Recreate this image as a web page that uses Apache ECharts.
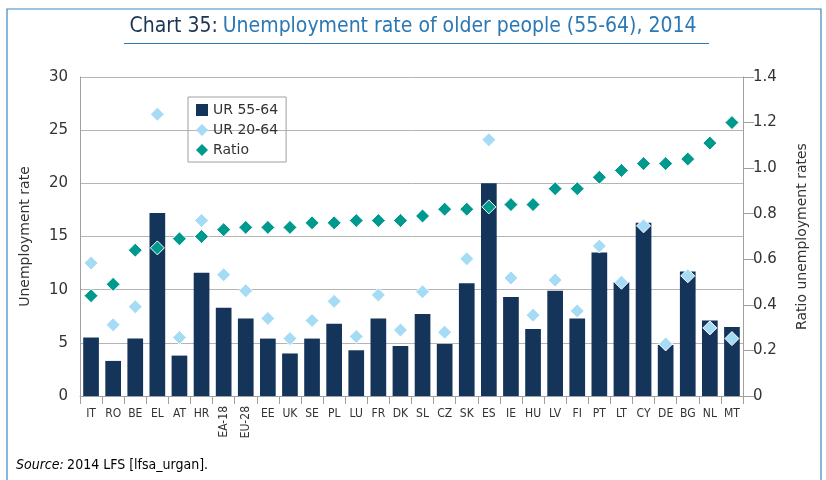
<!DOCTYPE html>
<html><head><meta charset="utf-8">
<script src="https://cdn.jsdelivr.net/npm/echarts@6/dist/echarts.min.js"></script>
<style>html,body{margin:0;padding:0;background:#fff}#c{width:826px;height:480px}</style>
</head><body><div id="c"></div>
<script>
var categories = ['IT','RO','BE','EL','AT','HR','EA-18','EU-28','EE','UK','SE','PL','LU','FR','DK','SL','CZ','SK','ES','IE','HU','LV','FI','PT','LT','CY','DE','BG','NL','MT'];
var ur5564 = [5.5,3.3,5.4,17.2,3.8,11.6,8.3,7.3,5.4,4.0,5.4,6.8,4.3,7.3,4.7,7.7,4.9,10.6,20.0,9.3,6.3,9.9,7.3,13.5,10.7,16.3,4.8,11.7,7.1,6.5];
var ur2064 = [12.5,6.7,8.4,26.5,5.5,16.5,11.4,9.9,7.3,5.4,7.1,8.9,5.6,9.5,6.2,9.8,6.0,12.9,24.1,11.1,7.6,10.9,8.0,14.1,10.7,16.0,4.9,11.3,6.4,5.4];
var ratio = [0.44,0.49,0.64,0.65,0.69,0.70,0.73,0.74,0.74,0.74,0.76,0.76,0.77,0.77,0.77,0.79,0.82,0.82,0.83,0.84,0.84,0.91,0.91,0.96,0.99,1.02,1.02,1.04,1.11,1.20];
var leftTicks = {min:0, max:30, interval:5};
var rightTicks = {min:0, max:1.4, interval:0.2};
var rotatedLabels = ['EA-18','EU-28'];

var chart = echarts.init(document.getElementById('c'));
var navy='#15345a', light='#a6dbf6', teal='#00998d', gray='#a0a0a0';
var baseFont = 'DejaVu Sans';
chart.setOption({
  animation:false,
  title:{
    text:'{a|Chart 35:} {b|Unemployment rate of older people (55-64), 2014}',
    left:'center', top:11,
    textStyle:{fontWeight:'normal',rich:{
      a:{fontFamily:'DejaVu Sans Condensed',fontSize:21,fontWeight:'normal',color:'#1c3556'},
      b:{fontFamily:'DejaVu Sans Condensed',fontSize:21,fontWeight:'normal',color:'#2a78b4'}
    }}
  },
  graphic:[
    {type:'rect',shape:{x:7,y:9,width:814,height:476},style:{fill:'none',stroke:'#3b86c2',lineWidth:1.2},z:-1},
    {type:'line',shape:{x1:124,y1:43.5,x2:709,y2:43.5},style:{stroke:'#2a78b4',lineWidth:1.2}},
    {type:'text',left:16,top:458,style:{
      text:'{s|Source:} {t|2014 LFS [lfsa_urgan].}',
      rich:{s:{fontFamily:'DejaVu Sans Condensed',fontStyle:'italic',fontSize:14,color:'#2a78b4'},
            t:{fontFamily:'DejaVu Sans Condensed',fontSize:14,color:'#1c3556'}}
    }}
  ],
  legend:{
    orient:'vertical', left:188, top:97,
    borderColor:'#a0a0a0', borderWidth:1, padding:[6,8,5,8],
    itemGap:6, itemWidth:12, itemHeight:12,
    itemStyle:{borderWidth:0},
    textStyle:{fontFamily:baseFont,fontSize:14,color:'#333'},
    data:[{name:'UR 55-64',icon:'rect'},{name:'UR 20-64',icon:'diamond'},{name:'Ratio',icon:'diamond'}]
  },
  grid:{left:80,right:83,top:77,bottom:84},
  xAxis:[{
    type:'category', data:categories,
    axisLine:{lineStyle:{color:gray}},
    axisTick:{show:true,length:8,lineStyle:{color:gray}},
    axisLabel:{interval:0,fontFamily:'DejaVu Sans Condensed',fontSize:12,color:'#333',margin:12,
      formatter:function(v){return rotatedLabels.indexOf(v)>=0?'':v;}}
  },{
    type:'category', data:categories, position:'bottom',
    axisLine:{show:false}, axisTick:{show:false},
    axisLabel:{interval:0,rotate:90,fontFamily:'DejaVu Sans Condensed',fontSize:12,color:'#333',margin:10,
      formatter:function(v){return rotatedLabels.indexOf(v)>=0?v:'';}}
  }],
  yAxis:[{
    type:'value', min:leftTicks.min, max:leftTicks.max, interval:leftTicks.interval,
    name:'Unemployment rate', nameLocation:'middle', nameGap:48, nameRotate:90,
    nameTextStyle:{fontFamily:baseFont,fontSize:14,color:'#333'},
    axisLine:{show:true,lineStyle:{color:gray}}, axisTick:{show:false},
    axisLabel:{fontFamily:baseFont,fontSize:15,color:'#333',margin:12},
    splitLine:{lineStyle:{color:'#b4b4b4',width:1}}
  },{
    type:'value', min:rightTicks.min, max:rightTicks.max, interval:rightTicks.interval,
    name:'Ratio unemployment rates', nameLocation:'middle', nameGap:52, nameRotate:90,
    nameTextStyle:{fontFamily:baseFont,fontSize:14,color:'#333'},
    axisLine:{show:true,lineStyle:{color:gray}},
    axisTick:{show:true,length:11,lineStyle:{color:gray}},
    axisLabel:{fontFamily:baseFont,fontSize:15,color:'#333',margin:10,
      formatter:function(v){return v===0?'0':v.toFixed(1);}},
    splitLine:{show:false}
  }],
  series:[
    {name:'UR 55-64',type:'bar',data:ur5564,barCategoryGap:'29%',itemStyle:{color:navy},yAxisIndex:0,xAxisIndex:0},
    {name:'Ratio',type:'scatter',data:ratio,symbol:'diamond',symbolSize:14,yAxisIndex:1,xAxisIndex:0,
      itemStyle:{color:teal,borderColor:'#fff',borderWidth:1,opacity:1},z:3},
    {name:'UR 20-64',type:'scatter',data:ur2064,symbol:'diamond',symbolSize:14,yAxisIndex:0,xAxisIndex:0,
      itemStyle:{color:light,borderColor:'#fff',borderWidth:1,opacity:1},z:4}
  ]
});
</script></body></html>
